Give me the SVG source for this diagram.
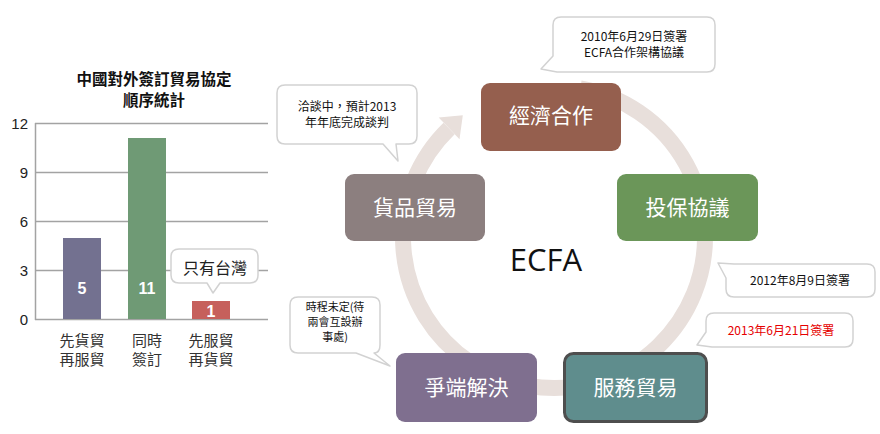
<svg xmlns="http://www.w3.org/2000/svg" width="880" height="434" viewBox="0 0 880 434">
<style>
.cjk{font-family:"Noto Sans CJK TC","Noto Sans CJK SC",sans-serif}
.ax{font-family:"Liberation Sans",Arial,sans-serif;font-size:15px;fill:#222;text-anchor:end}
.grid{stroke:#a3a3a3;stroke-width:1.5;fill:none}
.cat{font-size:15px;fill:#333;text-anchor:middle}
.val{font-family:"Liberation Sans",Arial,sans-serif;font-size:16px;font-weight:bold;fill:#fff;text-anchor:middle}
.node text{font-size:21px;fill:#fff;text-anchor:middle}
.call{fill:#fff;stroke:#d2d2d2;stroke-width:1.5;stroke-linejoin:round}
.ct{font-size:12px;fill:#111;text-anchor:middle}
</style>
<rect width="880" height="434" fill="#fff"/>
<g id="chart">
<text class="cjk" x="154" y="85" font-size="15.5" font-weight="bold" text-anchor="middle" fill="#111">中國對外簽訂貿易協定</text>
<text class="cjk" x="154" y="106" font-size="15.5" font-weight="bold" text-anchor="middle" fill="#111">順序統計</text>
<path class="grid" d="M35,123.5H268M35,172.5H268M35,221.5H268M35,270.5H268M35,319.5H268M35.5,123V320"/>
<text class="ax" x="28" y="129">12</text>
<text class="ax" x="28" y="178">9</text>
<text class="ax" x="28" y="227">6</text>
<text class="ax" x="28" y="276">3</text>
<text class="ax" x="28" y="325">0</text>
<rect x="63" y="238" width="38" height="81" fill="#737190"/>
<rect x="128" y="138" width="38" height="181" fill="#6f9a75"/>
<rect x="192" y="301" width="38" height="18" fill="#c6605c"/>
<text class="val" x="82" y="294">5</text>
<text class="val" x="147" y="294">11</text>
<text class="val" x="211" y="317">1</text>
<text class="cjk cat" x="82" y="346">先貨貿</text>
<text class="cjk cat" x="82" y="365">再服貿</text>
<text class="cjk cat" x="147" y="346">同時</text>
<text class="cjk cat" x="147" y="365">簽訂</text>
<text class="cjk cat" x="211" y="346">先服貿</text>
<text class="cjk cat" x="211" y="365">再貨貿</text>
<g id="note-taiwan">
<path class="call" d="M179,249H250Q258,249 258,257V275Q258,283 250,283H220L213,293L207,283H179Q171,283 171,275V257Q171,249 179,249Z"/>
<text class="cjk" x="215" y="274" font-size="16" text-anchor="middle" fill="#222">只有台灣</text>
</g>
</g>
<g id="connectors">
<path d="M580.2,88.3A151,151 0 1 1 449.1,128.4" fill="none" stroke="#e8dfdb" stroke-width="16"/>
<polygon points="438.7,117.6 462.8,115.2 459.5,139.2" fill="#e8dfdb"/>
</g>
<g id="ecfa">
<text x="546" y="271" font-family="Open Sans,Noto Sans,sans-serif" font-size="31" font-weight="500" text-anchor="middle" fill="#111">ECFA</text>
</g>
<g id="node-econ" class="node cjk">
<rect x="481" y="83" width="140" height="68" rx="9" fill="#955f4e"/>
<text x="551" y="123">經濟合作</text>
</g>
<g id="node-invest" class="node cjk">
<rect x="617" y="174" width="141" height="67" rx="9" fill="#6b9659"/>
<text x="687.5" y="215">投保協議</text>
</g>
<g id="node-goods" class="node cjk">
<rect x="345" y="174" width="140" height="67" rx="9" fill="#8c7f7f"/>
<text x="415" y="215">貨品貿易</text>
</g>
<g id="node-dispute" class="node cjk">
<rect x="396" y="353" width="141" height="69" rx="9" fill="#7f6f8f"/>
<text x="466.5" y="395">爭端解決</text>
</g>
<g id="node-service" class="node cjk">
<rect x="564.5" y="353.5" width="142" height="68" rx="9" fill="#5f8d8d" stroke="#4e4e4e" stroke-width="3"/>
<text x="635.5" y="395">服務貿易</text>
</g>
<g id="note-2010" class="cjk">
<path class="call" d="M561,17H707Q715,17 715,25V64Q715,72 707,72H557L541,69L553,56V25Q553,17 561,17Z"/>
<text class="ct" x="634" y="41">2010年6月29日簽署</text>
<text class="ct" x="634" y="57">ECFA合作架構協議</text>
</g>
<g id="note-goods" class="cjk">
<path class="call" d="M285,85H409Q417,85 417,93V136Q417,144 409,144H396L398,161L383,144H285Q277,144 277,136V93Q277,85 285,85Z"/>
<text class="ct" x="347" y="111">洽談中，預計2013</text>
<text class="ct" x="347" y="127">年年底完成談判</text>
</g>
<g id="note-invest" class="cjk">
<path class="call" d="M734,264H867Q875,264 875,272V289Q875,297 867,297H734Q726,297 726,289V278L718,263Z"/>
<text class="ct" x="800" y="285">2012年8月9日簽署</text>
</g>
<g id="note-service" class="cjk">
<path class="call" d="M714,313H845Q853,313 853,321V339Q853,347 845,347H712L697,345L706,332V321Q706,313 714,313Z" stroke="#9a9a9a" stroke-width="2"/>
<text class="ct" x="781" y="335" style="fill:#e60000">2013年6月21日簽署</text>
</g>
<g id="note-dispute" class="cjk">
<path class="call" d="M298,297H372Q380,297 380,305V345Q380,353 374,353L390,366L356,353H298Q290,353 290,345V305Q290,297 298,297Z"/>
<text class="ct" x="335" y="311" style="font-size:11px">時程未定(待</text>
<text class="ct" x="335" y="326" style="font-size:11px">兩會互設辦</text>
<text class="ct" x="335" y="341" style="font-size:11px">事處)</text>
</g>
</svg>
